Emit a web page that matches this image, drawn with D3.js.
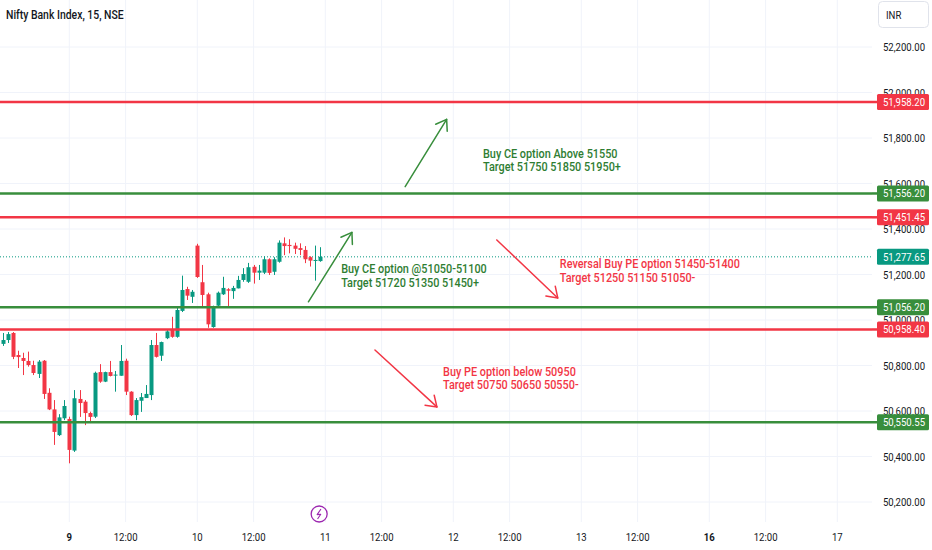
<!DOCTYPE html>
<html lang="en">
<head>
  <meta charset="UTF-8">
  <title>Nifty Bank Index, 15, NSE</title>
  <script src="https://d3js.org/d3.v7.min.js"></script>
  <style>
    body { margin: 0; background: #ffffff; }
    svg { display: block; font-family: Roboto, "Noto Sans", sans-serif; }
  </style>
</head>
<body>
  <script>
    // Size of the picture and of the price pane
    const width = 932;
    const height = 550;
    const paneRight = 872;
    const paneBottom = 522;
    const narrow = 0.87; // the screenshot text is a bit condensed

    // Price scale ticks
    const priceTicks = [50200, 50400, 50600, 50800, 51000, 51200, 51400, 51600, 51800, 52000, 52200];

    // Trading days on the time axis (25 bars of 15 min per session)
    const days = ["6", "9", "10", "11", "12", "13", "16", "17"];
    const weekStarts = ["9", "16"];
    const barsPerDay = 25;
    const noonBar = 11;   // 12:00 candle
    const firstBar = 12;  // first visible candle is bar 12 of day 6

    // 15 minute candles, day 6 (part), day 9, day 10
    const opens = [
      50895, 50912, 50943, 50846, 50833, 50820, 50802, 50763, 50821, 50680, 50607, 50494, 50568,
      50565, 50426, 50653, 50641, 50591, 50575, 50771, 50729, 50771, 50757, 50755, 50821, 50685,
      50582, 50645, 50657, 50670, 50890, 50843, 50920, 50960, 50926, 51040, 51136, 51102,
      51327, 51166, 51113, 50969, 51063, 51113, 51135, 51127, 51139, 51176, 51168, 51234, 51208,
      51208, 51267, 51212, 51256, 51337, 51330, 51327, 51316, 51308, 51276, 51261, 51259
    ];
    const highs = [
      50943, 50947, 50947, 50865, 50856, 50861, 50821, 50824, 50824, 50700, 50648, 50586, 50648,
      50575, 50692, 50692, 50648, 50597, 50773, 50806, 50773, 50820, 50776, 50890, 50830, 50687,
      50657, 50679, 50714, 50912, 50943, 50905, 50956, 51014, 51058, 51195, 51146, 51132,
      51335, 51242, 51120, 51063, 51125, 51190, 51140, 51150, 51194, 51228, 51251, 51242, 51242,
      51280, 51271, 51276, 51350, 51363, 51355, 51340, 51337, 51325, 51280, 51327, 51320
    ];
    const lows = [
      50886, 50899, 50828, 50789, 50758, 50795, 50758, 50745, 50653, 50604, 50451, 50490, 50560,
      50370, 50420, 50574, 50538, 50547, 50569, 50724, 50727, 50752, 50685, 50755, 50670, 50578,
      50560, 50596, 50657, 50648, 50835, 50820, 50916, 50922, 50922, 51035, 51088, 51075,
      51185, 51058, 50966, 50966, 51058, 51110, 51058, 51093, 51139, 51168, 51163, 51160, 51176,
      51202, 51198, 51198, 51252, 51285, 51293, 51290, 51285, 51250, 51235, 51173, 51256
    ];
    const closes = [
      50912, 50938, 50838, 50837, 50820, 50802, 50767, 50817, 50675, 50607, 50508, 50572, 50622,
      50429, 50656, 50635, 50591, 50574, 50768, 50729, 50771, 50754, 50760, 50820, 50685, 50582,
      50648, 50661, 50675, 50890, 50838, 50903, 50950, 50926, 51044, 51132, 51107, 51124,
      51189, 51110, 50981, 51058, 51120, 51141, 51129, 51141, 51176, 51202, 51232, 51208, 51217,
      51267, 51207, 51267, 51340, 51325, 51325, 51313, 51308, 51267, 51261, 51264, 51277.65
    ];

    // Horizontal levels drawn on the chart
    const levelPrices = [51958.20, 51556.20, 51451.45, 51056.20, 50958.40, 50550.55];
    const levelSides = ["sell", "buy", "sell", "buy", "sell", "buy"];

    // Arrows: [bar, price] start and end
    const arrowFrom = [[90.6, 51586], [71.7, 51080], [108.5, 51352], [84.7, 50868]];
    const arrowTo = [[98.7, 51882], [80.2, 51385], [120.4, 51097], [96.8, 50618]];
    const arrowSides = ["buy", "buy", "sell", "sell"];

    // Text notes: anchor [bar, price] of first line baseline
    const noteAt = [[105.8, 51714], [78.1, 51205], [120.8, 51228], [98.0, 50754]];
    const noteLines = [
      ["Buy CE option Above 51550", "Target 51750 51850 51950+"],
      ["Buy CE option @51050-51100", "Target 51720 51350 51450+"],
      ["Reversal Buy PE option 51450-51400", "Target 51250 51150 51050-"],
      ["Buy PE option below 50950", "Target 50750 50650 50550-"]
    ];
    const noteSides = ["buy", "buy", "sell", "sell"];

    const lastPrice = closes[closes.length - 1];

    // Colours
    const upColor = "#089981";
    const downColor = "#f23645";
    const sideColor = { buy: "#388e3c", sell: "#f23645" };
    const noteColor = { buy: "#2e7d32", sell: "#f23645" };
    const gridColor = "#f0f3fa";
    const textColor = "#131722";

    // Scales
    const x = d3.scaleLinear().domain([25, 225]).range([69.3, 69.3 + 200 * 5.12]);
    const y = d3.scaleLinear().domain([50200, 52200]).range([502, 47]);
    const fmt = d3.format(",.2f");

    const svg = d3.select("body")
      .append("svg")
      .attr("width", width)
      .attr("height", height);

    svg.append("rect").attr("width", width).attr("height", height).attr("fill", "#fff");

    svg.append("clipPath").attr("id", "pane")
      .append("rect").attr("x", 0).attr("y", 0).attr("width", paneRight).attr("height", paneBottom);

    // condensed text helper
    function label(parent, px, py, str) {
      return parent.append("text")
        .attr("transform", `translate(${px},${py}) scale(${narrow},1)`)
        .text(str);
    }

    // Time axis marks
    const timeMarks = [];
    days.forEach((d, i) => {
      timeMarks.push({ bar: i * barsPerDay, text: d, bold: weekStarts.includes(d) });
      timeMarks.push({ bar: i * barsPerDay + noonBar, text: "12:00", bold: false });
    });
    const visibleMarks = timeMarks.filter(m => x(m.bar) > 0 && x(m.bar) < paneRight - 20);

    // Grid
    const grid = svg.append("g").attr("clip-path", "url(#pane)");
    grid.selectAll("line.v")
      .data(visibleMarks)
      .enter()
      .append("line")
      .attr("x1", d => x(d.bar)).attr("x2", d => x(d.bar))
      .attr("y1", 0).attr("y2", paneBottom)
      .attr("stroke", gridColor);
    grid.selectAll("line.h")
      .data(priceTicks)
      .enter()
      .append("line")
      .attr("x1", 0).attr("x2", paneRight)
      .attr("y1", d => y(d)).attr("y2", d => y(d))
      .attr("stroke", gridColor);

    const pane = svg.append("g").attr("clip-path", "url(#pane)");

    // Last price dotted line
    pane.append("line")
      .attr("x1", 0).attr("x2", paneRight)
      .attr("y1", y(lastPrice)).attr("y2", y(lastPrice))
      .attr("stroke", upColor)
      .attr("stroke-dasharray", "1,2");

    // Candles
    const candles = opens.map((o, i) => ({
      bar: firstBar + i, o: o, h: highs[i], l: lows[i], c: closes[i]
    }));
    const cg = pane.selectAll("g.candle")
      .data(candles)
      .enter()
      .append("g")
      .attr("fill", d => d.c >= d.o ? upColor : downColor)
      .attr("stroke", d => d.c >= d.o ? upColor : downColor);
    cg.append("line")
      .attr("x1", d => Math.round(x(d.bar)) + 0.5)
      .attr("x2", d => Math.round(x(d.bar)) + 0.5)
      .attr("y1", d => y(d.h))
      .attr("y2", d => y(d.l))
      .attr("stroke-width", 1);
    cg.append("rect")
      .attr("x", d => Math.round(x(d.bar)) - 1.5)
      .attr("width", 4)
      .attr("y", d => y(Math.max(d.o, d.c)))
      .attr("height", d => Math.max(1, Math.abs(y(d.o) - y(d.c))))
      .attr("stroke", "none");

    // Horizontal levels
    pane.selectAll("line.level")
      .data(levelPrices)
      .enter()
      .append("line")
      .attr("x1", 0).attr("x2", paneRight + 6)
      .attr("y1", d => y(d)).attr("y2", d => y(d))
      .attr("stroke", (d, i) => sideColor[levelSides[i]])
      .attr("stroke-width", 2.5);
    svg.selectAll("line.levelStub")
      .data(levelPrices)
      .enter()
      .append("line")
      .attr("x1", paneRight).attr("x2", paneRight + 6)
      .attr("y1", d => y(d)).attr("y2", d => y(d))
      .attr("stroke", (d, i) => sideColor[levelSides[i]])
      .attr("stroke-width", 2.5);

    // Arrows
    const arrows = pane.append("g").attr("fill", "none").attr("stroke-width", 1.5).attr("stroke-linecap", "round");
    arrowFrom.forEach((f, i) => {
      const x1 = x(f[0]), y1 = y(f[1]);
      const x2 = x(arrowTo[i][0]), y2 = y(arrowTo[i][1]);
      const ang = Math.atan2(y1 - y2, x1 - x2);
      const len = 12, spread = 0.6;
      const head = [
        [x2 + len * Math.cos(ang + spread), y2 + len * Math.sin(ang + spread)],
        [x2, y2],
        [x2 + len * Math.cos(ang - spread), y2 + len * Math.sin(ang - spread)]
      ];
      const col = sideColor[arrowSides[i]];
      arrows.append("line")
        .attr("x1", x1).attr("y1", y1).attr("x2", x2).attr("y2", y2)
        .attr("stroke", col);
      arrows.append("path")
        .attr("d", d3.line()(head))
        .attr("stroke", col)
        .attr("stroke-linejoin", "round");
    });

    // Notes
    const notes = pane.append("g").attr("font-size", 12.5).attr("font-weight", 500);
    noteAt.forEach((p, i) => {
      noteLines[i].forEach((line, j) => {
        label(notes, x(p[0]), y(p[1]) + j * 13.5, line)
          .attr("fill", noteColor[noteSides[i]]);
      });
    });

    // Event marker (lightning)
    const ev = svg.append("g").attr("transform", `translate(${x(73.8)},514)`)
      .attr("fill", "none").attr("stroke", "#9c27b0");
    ev.append("circle").attr("r", 8).attr("stroke-width", 1.3).attr("fill", "#fff");
    ev.append("path").attr("d", "M1.8,-5 L-2,0.6 L1.6,0.2 L-1.6,5").attr("stroke-width", 1.1)
      .attr("stroke-linejoin", "round");

    // Price axis labels
    const pAxis = svg.append("g").attr("font-size", 11).attr("text-anchor", "end").attr("fill", textColor);
    priceTicks.forEach(p => {
      label(pAxis, 925, y(p) + 4, fmt(p));
    });

    // Price boxes for levels and the last price
    const boxes = levelPrices.map((p, i) => ({ p: p, col: sideColor[levelSides[i]] }));
    boxes.push({ p: lastPrice, col: upColor });
    const bx = svg.append("g").attr("font-size", 11).attr("text-anchor", "end");
    boxes.forEach(b => {
      bx.append("rect")
        .attr("x", 877).attr("y", y(b.p) - 8)
        .attr("width", 52).attr("height", 16)
        .attr("rx", 1.5)
        .attr("fill", b.col);
      label(bx, 925, y(b.p) + 4, fmt(b.p)).attr("fill", "#fff");
    });

    // Time axis labels
    const tAxis = svg.append("g").attr("font-size", 11).attr("text-anchor", "middle").attr("fill", textColor);
    visibleMarks.forEach(m => {
      label(tAxis, x(m.bar), 541, m.text).attr("font-weight", m.bold ? 700 : 400);
    });

    // Title and currency box
    label(svg, 6, 19, "Nifty Bank Index, 15, NSE")
      .attr("font-size", 12).attr("font-weight", 500).attr("fill", textColor);
    svg.append("rect")
      .attr("x", 878.5).attr("y", 1.5).attr("width", 50).attr("height", 26)
      .attr("rx", 4).attr("fill", "#fff").attr("stroke", "#e0e3eb");
    label(svg, 886, 19, "INR").attr("font-size", 11).attr("fill", textColor);
  </script>
</body>
</html>
